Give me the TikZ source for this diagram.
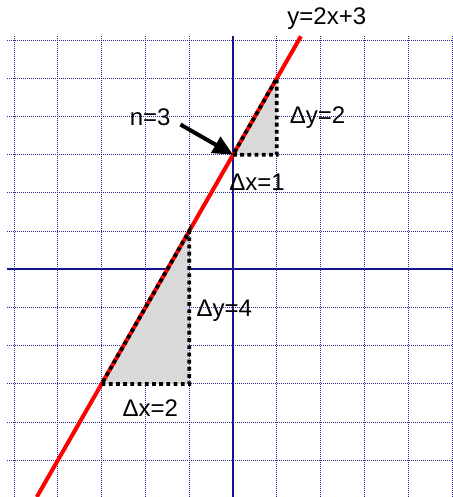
\documentclass[tikz,border=0pt]{standalone}
\usepackage{fontspec}
\setmainfont{Liberation Sans}
\usetikzlibrary{arrows.meta,positioning}
\definecolor{gridblue}{RGB}{40,40,150}
\definecolor{axisblue}{RGB}{20,20,140}
\tikzset{
  gridline/.style={draw=gridblue, line width=0.5pt, dash pattern=on 0.5pt off 0.5pt},
  axisline/.style={draw=axisblue, line width=1pt},
  graphline/.style={draw=red, line width=2pt},
  slopetri/.style={draw=black, line width=1.9pt, dash pattern=on 1.9pt off 1.7pt},
  mathlabel/.style={font=\fontsize{12}{14}\selectfont, inner sep=1pt},
  pointarrow/.style={-{Triangle[length=10pt,width=9pt]}, line width=2pt, draw=black},
}

\begin{document}
\begin{tikzpicture}[x=21.9pt, y=19.1pt]
    \useasboundingbox (-5.32,-5.96) rectangle (5.02,7.05);
    % grid
    \foreach \gx in {-5,...,5}
        \draw[gridline] (\gx,-5.96) -- (\gx,6.1);
    \foreach \gy in {-5,...,6}
        \draw[gridline] (-5.15,\gy) -- (5.02,\gy);
    % axes
    \draw[axisline] (-5.15,0) -- (5.02,0);
    \draw[axisline] (0,-5.96) -- (0,6.1);
    % slope triangles
    \coordinate (lowA) at (-3,-3);
    \coordinate (lowB) at (-1,-3);
    \coordinate (lowC) at (-1,1);
    \coordinate (upA) at (0,3);
    \coordinate (upB) at (1,3);
    \coordinate (upC) at (1,5);
    \fill[black!15] (lowA) -- (lowB) -- (lowC) -- cycle;
    \fill[black!15] (upA) -- (upB) -- (upC) -- cycle;
    % line y=2x+3
    \coordinate (lineStart) at (-4.48,-5.96);
    \coordinate (lineEnd) at (1.55,6.1);
    \draw[graphline] (lineStart) -- (lineEnd);
    \draw[slopetri] (lowA) -- (lowB) -- (lowC) -- cycle;
    \draw[slopetri] (upA) -- (upB) -- (upC) -- cycle;
    % labels
    \node[mathlabel] (eqn) at (2.14,6.55) {y=2x+3};
    \node[mathlabel] (intercept) at (-1.89,3.97) {n=3};
    \node[mathlabel] (dyUp) at (1.93,3.97) {Δy=2};
    \node[mathlabel] (dxUp) at (0.55,2.29) {Δx=1};
    \node[mathlabel] (dyLow) at (-0.2,-1.08) {Δy=4};
    \node[mathlabel] (dxLow) at (-1.89,-3.63) {Δx=2};
    \coordinate (arrowStart) at (-1.2,3.79);
    \draw[pointarrow] (arrowStart) -- (upA);
\end{tikzpicture}
\end{document}
